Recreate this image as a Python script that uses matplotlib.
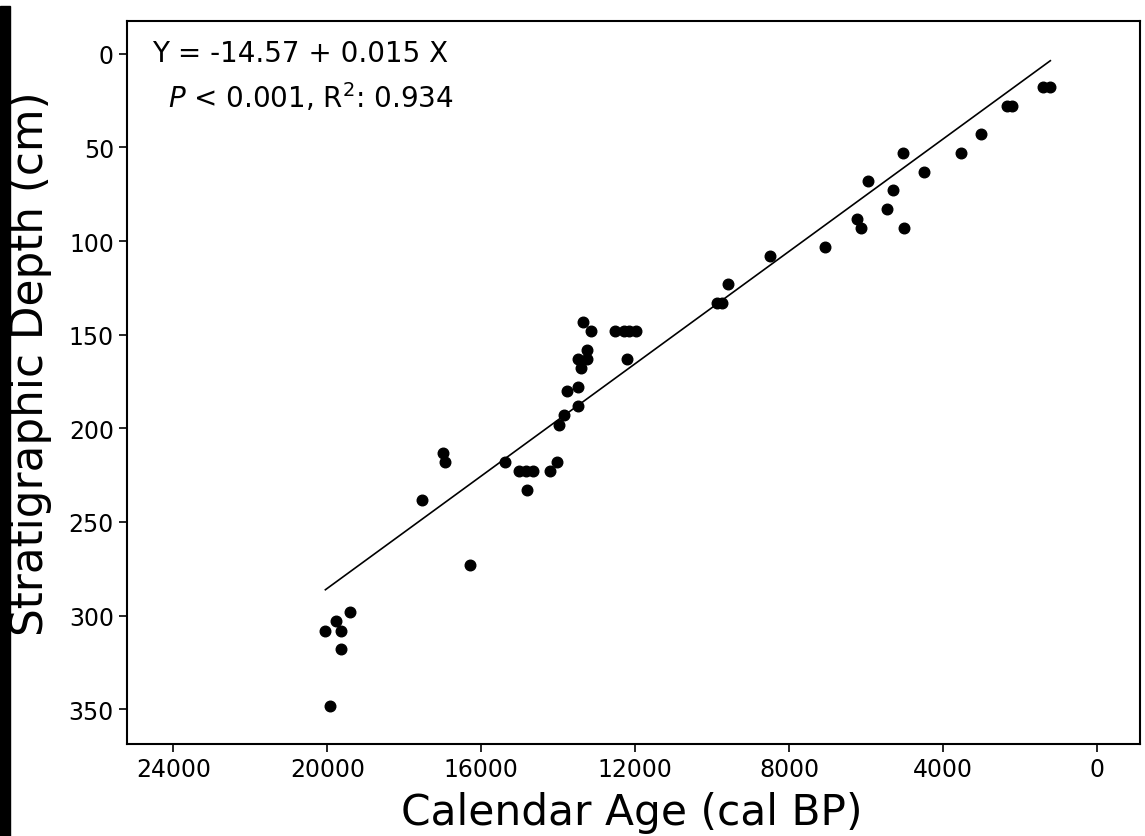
import numpy as np
import matplotlib.pyplot as plt
from matplotlib.patches import Rectangle

# calibrated ages (cal BP) and stratigraphic depths (cm)
age = [20050, 19770, 19640, 19640, 19400, 19920, 17530, 16990, 16940, 16290,
       15380, 15010, 14830, 14650, 14810, 14210, 14030, 13980, 13850, 13480,
       13480, 13770, 13400, 13480, 13250, 13250, 13370, 13160, 12540, 12290,
       12160, 11970, 12210, 9870, 9740, 9580, 8490, 7060, 6230, 6130,
       5950, 5450, 5300, 5040, 5010, 4490, 3530, 3010, 2340, 2210,
       1400, 1220]
depth = [308, 303, 308, 318, 298, 348, 238, 213, 218, 273,
         218, 223, 223, 223, 233, 223, 218, 198, 193, 188,
         178, 180, 168, 163, 163, 158, 143, 148, 148, 148,
         148, 148, 163, 133, 133, 123, 108, 103, 88, 93,
         68, 83, 73, 53, 93, 63, 53, 43, 28, 28,
         18, 18]

intercept = -14.57
slope = 0.015
x_ticks = [24000, 20000, 16000, 12000, 8000, 4000, 0]
y_ticks = [0, 50, 100, 150, 200, 250, 300, 350]

plt.rcParams['font.family'] = ['DejaVu Sans']

fig = plt.figure(figsize=(11.45, 8.37), dpi=100)
ax = fig.add_axes([0.111, 0.110, 0.885, 0.864])

ax.scatter(age, depth, s=58, color='black', zorder=3)
xs = np.array([max(age), min(age)])
ax.plot(xs, intercept + slope * xs, color='black', lw=1.2)

ax.set_xlim(25200, -1120)
ax.set_ylim(368.5, -17.6)
ax.set_xticks(x_ticks)
ax.set_yticks(y_ticks)
ax.tick_params(labelsize=17, length=6, width=1.2)
for s in ax.spines.values():
    s.set_linewidth(1.5)

ax.text(0.025, 0.955, 'Y = -14.57 + 0.015 X', transform=ax.transAxes,
        fontsize=20, va='center', ha='left')
ax.text(0.040, 0.895, r'$P$ < 0.001, R$^2$: 0.934', transform=ax.transAxes,
        fontsize=20, va='center', ha='left')

fig.text(0.552, 0.003, 'Calendar Age (cal BP)', fontsize=30.5, ha='center', va='bottom')
fig.text(0.027, 0.565, 'Stratigraphic Depth (cm)', fontsize=31.5, rotation=90,
         ha='center', va='center')

# thick bar along the left edge
fig.patches.append(Rectangle((0, 0), 0.009, 0.992, transform=fig.transFigure,
                             color='black', zorder=5))

fig.savefig('out.png', dpi=100)
